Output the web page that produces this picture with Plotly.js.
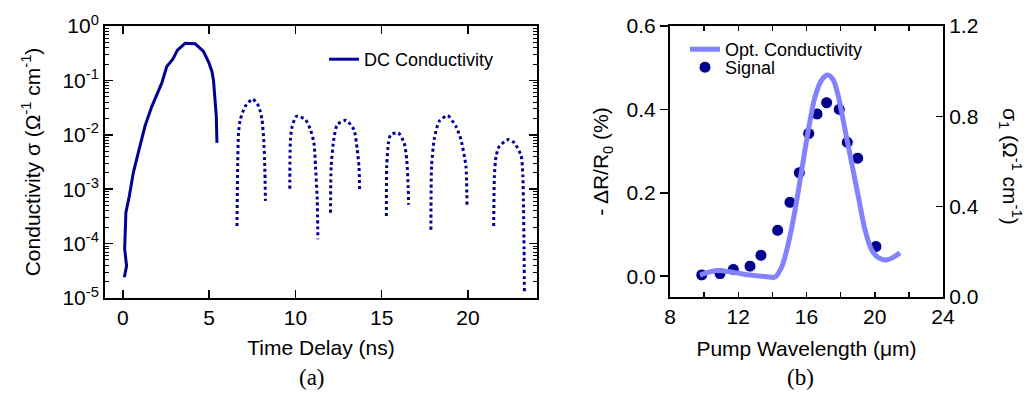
<!DOCTYPE html>
<html>
<head>
<meta charset="utf-8">
<script src="https://cdn.plot.ly/plotly-3.0.1.min.js"></script>
<style>html,body{margin:0;padding:0;background:#fff;}#chart{width:1032px;height:405px;}</style>
</head>
<body>
<div id="chart"></div>
<script>
// ---- Panel (a): DC conductivity vs time delay ----
const dcTime  = [0.08, 0.21, 0.10, 0.17, 0.37, 0.60, 0.89, 1.18, 1.28, 1.67, 2.05, 2.25, 2.54, 2.89, 3.16, 3.60, 4.19, 4.67, 4.96, 5.16, 5.25, 5.35, 5.41, 5.45];
const dcSigma = [2.4e-5, 3.9e-5, 8e-5, 3.7e-4, 7.5e-4, 2.0e-3, 4.7e-3, 1.08e-2, 1.45e-2, 3.3e-2, 6.3e-2, 8.9e-2, 0.18, 0.245, 0.36, 0.48, 0.47, 0.34, 0.22, 0.146, 0.10, 0.044, 0.022, 0.0071];

const arc1Time  = [6.61, 6.65, 6.70, 6.80, 7.09, 7.52, 7.87, 8.06, 8.16, 8.22, 8.26];
const arc1Sigma = [2.1e-4, 2.65e-3, 0.0108, 0.019, 0.0333, 0.0454, 0.0333, 0.019, 8.2e-3, 2.65e-3, 6.1e-4];
const arc2Time  = [9.67, 9.71, 9.81, 10.06, 10.58, 10.87, 11.07, 11.16, 11.26, 11.30];
const arc2Sigma = [1.02e-3, 8.2e-3, 0.0143, 0.0219, 0.019, 0.0124, 7.1e-3, 2.65e-3, 6.5e-4, 1.2e-4];
const arc3Time  = [12.03, 12.07, 12.22, 12.42, 12.94, 13.39, 13.58, 13.68, 13.72];
const arc3Sigma = [3.7e-4, 2.65e-3, 8.2e-3, 0.0154, 0.0185, 0.0124, 5.4e-3, 2.65e-3, 9.3e-4];
const arc4Time  = [15.27, 15.29, 15.39, 15.52, 15.97, 16.30, 16.45, 16.53, 16.56];
const arc4Sigma = [3.2e-4, 2.65e-3, 7.1e-3, 0.0101, 0.0108, 7.1e-3, 3.5e-3, 1.15e-3, 5.2e-4];
const arc5Time  = [17.85, 17.89, 18.04, 18.33, 18.82, 19.30, 19.59, 19.88, 19.94];
const arc5Sigma = [1.8e-4, 2.65e-3, 8.2e-3, 0.0177, 0.0225, 0.0143, 8.2e-3, 2.65e-3, 5.2e-4];
const arc6Time  = [21.49, 21.53, 21.63, 21.82, 22.35, 22.69, 23.08, 23.18, 23.22, 23.25, 23.27];
const arc6Sigma = [2.1e-4, 1.74e-3, 4.1e-3, 6.2e-3, 8.2e-3, 7.1e-3, 4.1e-3, 1.74e-3, 4.3e-4, 8e-5, 1.26e-5];

const logTickVals  = [1e-5, 1e-4, 1e-3, 1e-2, 1e-1, 1];
const logTickText  = ['10<sup>-5</sup>', '10<sup>-4</sup>', '10<sup>-3</sup>', '10<sup>-2</sup>', '10<sup>-1</sup>', '10<sup>0</sup>'];
const timeTickVals = [0, 5, 10, 15, 20];

// ---- Panel (b): pump wavelength scan ----
const sigWavelength = [9.86, 10.93, 11.71, 12.69, 13.33, 14.31, 15.03, 15.58, 16.13, 16.62, 17.18, 17.92, 18.39, 19.00, 20.07];
const sigValue      = [0.003, 0.006, 0.016, 0.024, 0.05, 0.11, 0.177, 0.248, 0.342, 0.389, 0.416, 0.40, 0.321, 0.283, 0.071];

const optWavelength = [9.76, 10.74, 11.71, 12.69, 13.67, 14.15, 14.55, 14.94, 15.33, 15.72, 16.11, 16.50, 16.89, 17.24, 17.57, 17.87, 18.26, 18.65, 19.04, 19.43, 19.82, 20.21, 20.70, 21.09, 21.48];
const optSigma1     = [0.097, 0.117, 0.109, 0.097, 0.09, 0.088, 0.134, 0.238, 0.385, 0.562, 0.74, 0.887, 0.961, 0.983, 0.961, 0.887, 0.74, 0.592, 0.444, 0.297, 0.208, 0.174, 0.164, 0.176, 0.196];

// build the dotted arcs as one trace separated by gaps
const arcs = [[arc1Time, arc1Sigma], [arc2Time, arc2Sigma], [arc3Time, arc3Sigma], [arc4Time, arc4Sigma], [arc5Time, arc5Sigma], [arc6Time, arc6Sigma]];
const arcX = [], arcY = [];
arcs.forEach(function (a, i) {
  if (i > 0) { arcX.push(null); arcY.push(null); }
  a[0].forEach(function (v) { arcX.push(v); });
  a[1].forEach(function (v) { arcY.push(v); });
});

// minor log ticks (2..9 in each decade)
const minorLog = [];
for (let p = -5; p < 0; p++) {
  for (let m = 2; m <= 9; m++) minorLog.push(m * Math.pow(10, p));
}

const navy = 'rgb(0,0,150)';
const FONT = 'Liberation Sans, Arial, sans-serif';

const traces = [
  { x: dcTime, y: dcSigma, xaxis: 'x', yaxis: 'y', type: 'scatter', mode: 'lines',
    name: 'DC Conductivity', line: { color: navy, width: 3 }, legend: 'legend' },
  { x: arcX, y: arcY, xaxis: 'x', yaxis: 'y', type: 'scatter', mode: 'lines', connectgaps: false,
    showlegend: false, line: { color: navy, width: 3, dash: '3px,3px', shape: 'spline', smoothing: 0.6 } },
  { x: optWavelength, y: optSigma1, xaxis: 'x2', yaxis: 'y3', type: 'scatter', mode: 'lines',
    name: 'Opt. Conductivity', line: { color: 'rgb(130,130,255)', width: 5, shape: 'spline', smoothing: 0.8 }, legend: 'legend2' },
  { x: sigWavelength, y: sigValue, xaxis: 'x2', yaxis: 'y2', type: 'scatter', mode: 'markers',
    name: 'Signal', marker: { color: 'rgb(0,0,140)', size: 12, line: { color: '#fff', width: 1 } }, legend: 'legend3' }
];

const W = 1032, H = 405;
const px = v => v / W;
const py = v => 1 - v / H;

const legendBase = { xanchor: 'left', yanchor: 'top', bgcolor: 'rgba(0,0,0,0)', borderwidth: 0, font: { size: 18, family: FONT } };

const layout = {
  width: W, height: H,
  margin: { l: 0, r: 0, t: 0, b: 0 },
  paper_bgcolor: '#fff', plot_bgcolor: '#fff',
  font: { family: FONT, size: 21, color: '#000' },
  showlegend: true,
  xaxis: {
    domain: [px(105), px(537)], anchor: 'y', range: [-1.04, 24.0],
    tickvals: timeTickVals, ticks: 'inside', ticklen: 8, tickwidth: 1.5, tickcolor: '#000',
    showline: true, linewidth: 2, linecolor: '#000', mirror: 'ticks', showgrid: false, zeroline: false,
    tickfont: { size: 21 },
    title: { text: 'Time Delay (ns)', font: { size: 21 }, standoff: 12 }
  },
  yaxis: {
    domain: [py(298), py(26)], anchor: 'x', type: 'log', range: [-5, 0],
    tickmode: 'array', tickvals: logTickVals, ticktext: logTickText,
    ticks: 'inside', ticklen: 8, tickwidth: 1.5, tickcolor: '#000',
    minor: { tickmode: 'array', tickvals: minorLog, ticks: 'inside', ticklen: 4, tickwidth: 1, tickcolor: '#000', showgrid: false },
    showline: true, linewidth: 2, linecolor: '#000', mirror: 'ticks', showgrid: false, zeroline: false,
    tickfont: { size: 21 },
    title: { text: 'Conductivity σ (Ω<sup>-1</sup> cm<sup>-1</sup>)', font: { size: 21 }, standoff: 16 }
  },
  xaxis2: {
    domain: [px(670), px(943)], anchor: 'y2', range: [8, 24], dtick: 4, tick0: 0,
    ticks: 'inside', ticklen: 5, tickwidth: 1.5, tickcolor: '#000',
    minor: { dtick: 2, ticks: 'inside', ticklen: 5, tickwidth: 1.5, tickcolor: '#000', showgrid: false },
    showline: true, linewidth: 2, linecolor: '#000', mirror: 'ticks', showgrid: false, zeroline: false,
    tickfont: { size: 21 },
    title: { text: 'Pump Wavelength (μm)', font: { size: 21 }, standoff: 14 }
  },
  yaxis2: {
    domain: [py(297), py(26)], anchor: 'x2', range: [-0.05, 0.6], dtick: 0.2, tick0: 0, tickformat: '.1f',
    ticks: 'outside', ticklen: 8, tickwidth: 1.5, tickcolor: '#000',
    showline: true, linewidth: 2, linecolor: '#000', mirror: false, showgrid: false, zeroline: false,
    tickfont: { size: 21 },
    title: { text: '- ΔR/R<sub>0</sub> (%)', font: { size: 21 }, standoff: 12 }
  },
  yaxis3: {
    overlaying: 'y2', anchor: 'x2', side: 'right', range: [0, 1.2], tickvals: [0, 0.4, 0.8, 1.2], tickformat: '.1f',
    ticks: 'inside', ticklen: 7, tickwidth: 1.5, tickcolor: '#000',
    showline: true, linewidth: 2, linecolor: '#000', showgrid: false, zeroline: false,
    tickfont: { size: 21 }
  },
  legend:  Object.assign({}, legendBase, { x: px(324), y: py(41) }),
  legend2: Object.assign({}, legendBase, { x: px(685), y: py(31) }),
  legend3: Object.assign({}, legendBase, { x: px(685), y: py(49) }),
  annotations: [
    { text: '(a)', x: px(297), y: py(392), xref: 'paper', yref: 'paper', showarrow: false,
      font: { family: 'Liberation Serif, serif', size: 23 } },
    { text: '(b)', x: px(816), y: py(392), xref: 'paper', yref: 'paper', showarrow: false,
      font: { family: 'Liberation Serif, serif', size: 23 } },
    { text: 'σ<sub>1</sub> (Ω<sup>-1</sup> cm<sup>-1</sup>)', x: px(1011), y: py(166), xref: 'paper', yref: 'paper',
      xanchor: 'center', yanchor: 'middle', showarrow: false, textangle: 90, font: { size: 21 } }
  ]
};

Plotly.newPlot('chart', traces, layout, { displayModeBar: false, staticPlot: true });
</script>
</body>
</html>
